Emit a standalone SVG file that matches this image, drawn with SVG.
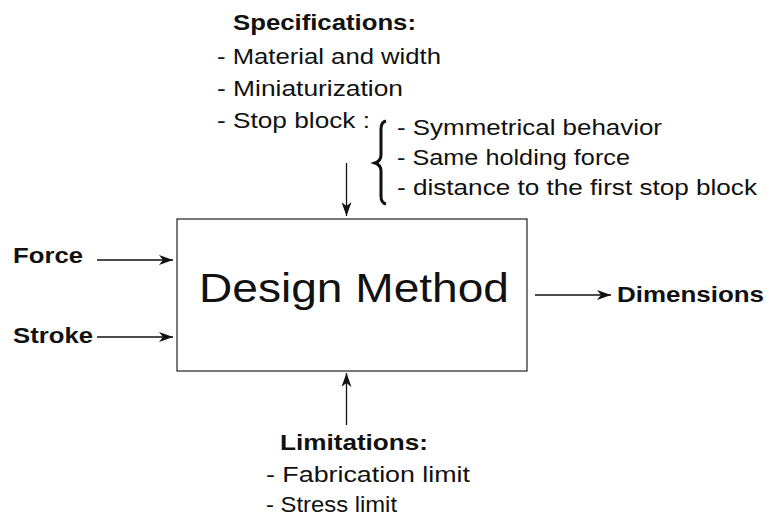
<svg xmlns="http://www.w3.org/2000/svg" width="766" height="517" viewBox="0 0 766 517">
<defs>
<style>
text{font-family:"Liberation Sans",Arial,sans-serif;fill:#111}
.b{font-weight:bold;font-size:22px}
.t{font-size:22px}
.ln{stroke:#111;stroke-width:1.3;fill:none}
</style>
<marker id="ah" viewBox="0 0 14 10" refX="14" refY="5" markerWidth="14" markerHeight="10" markerUnits="userSpaceOnUse" orient="auto">
<path d="M0,0 L14,5 L0,10 L4,5 Z" fill="#111"/>
</marker>
</defs>
<rect width="766" height="517" fill="#fff"/>
<g id="design-method">
<rect x="177" y="219" width="350" height="152" fill="#fff" stroke="#333" stroke-width="1.3"/>
<text x="199" y="302" style="font-size:40px" textLength="310" lengthAdjust="spacingAndGlyphs">Design Method</text>
</g>
<g id="specifications">
<text x="233" y="30" class="b" textLength="183" lengthAdjust="spacingAndGlyphs">Specifications:</text>
<text x="217" y="64" class="t" textLength="224" lengthAdjust="spacingAndGlyphs">- Material and width</text>
<text x="217" y="96" class="t" textLength="186" lengthAdjust="spacingAndGlyphs">- Miniaturization</text>
<text x="217" y="128" class="t" textLength="153" lengthAdjust="spacingAndGlyphs">- Stop block :</text>
<path d="M386,121 Q381,122 381,129 L381,155 Q381,161 375,163 Q381,165 381,171 L381,196 Q381,203 386,204" fill="none" stroke="#111" stroke-width="3"/>
<text x="397" y="135" class="t" textLength="265" lengthAdjust="spacingAndGlyphs">- Symmetrical behavior</text>
<text x="397" y="165" class="t" textLength="233" lengthAdjust="spacingAndGlyphs">- Same holding force</text>
<text x="397" y="195" class="t" textLength="360" lengthAdjust="spacingAndGlyphs">- distance to the first stop block</text>
</g>
<g id="force"><text x="13" y="263" class="b" textLength="70" lengthAdjust="spacingAndGlyphs">Force</text></g>
<g id="stroke"><text x="13" y="343" class="b" textLength="80" lengthAdjust="spacingAndGlyphs">Stroke</text></g>
<g id="dimensions"><text x="617" y="302" class="b" textLength="147" lengthAdjust="spacingAndGlyphs">Dimensions</text></g>
<g id="limitations">
<text x="280" y="450" class="b" textLength="148" lengthAdjust="spacingAndGlyphs">Limitations:</text>
<text x="266" y="482" class="t" textLength="204" lengthAdjust="spacingAndGlyphs">- Fabrication limit</text>
<text x="266" y="512" class="t" textLength="131" lengthAdjust="spacingAndGlyphs">- Stress limit</text>
</g>
<g id="connectors">
<line x1="346.5" y1="163" x2="346.5" y2="216" class="ln" marker-end="url(#ah)"/>
<line x1="97" y1="260" x2="173" y2="260" class="ln" marker-end="url(#ah)"/>
<line x1="97" y1="337" x2="173" y2="337" class="ln" marker-end="url(#ah)"/>
<line x1="535" y1="295" x2="611" y2="295" class="ln" marker-end="url(#ah)"/>
<line x1="346.5" y1="425" x2="346.5" y2="373" class="ln" marker-end="url(#ah)"/>
</g>
</svg>
